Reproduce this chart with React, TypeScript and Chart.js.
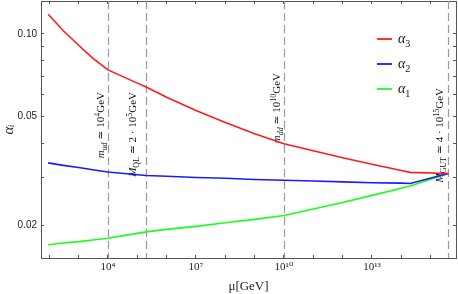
import React, { useEffect, useRef } from 'react';
import { Chart, registerables } from 'chart.js';

Chart.register(...registerables);

// scale mu in GeV
const muGeV = [91.2, 3e2, 1e3, 3e3, 1e4, 1e5, 2e5, 1e6, 1e7, 1e8, 1e9, 1e10, 1e11, 1e12, 1e13, 1e14, 2e14, 4e15];
const alpha3 = [0.118, 0.1028, 0.091, 0.0817, 0.074, 0.0662, 0.0641, 0.0588, 0.0526, 0.0476, 0.0433, 0.0398, 0.0375, 0.0354, 0.0335, 0.0318, 0.0313, 0.031];
const alpha2 = [0.0339, 0.0332, 0.0326, 0.032, 0.0314, 0.0307, 0.0305, 0.0303, 0.03, 0.0298, 0.0295, 0.0293, 0.0291, 0.0289, 0.0287, 0.0286, 0.0285, 0.031];
const alpha1 = [0.01706, 0.01729, 0.0175, 0.01775, 0.018, 0.01876, 0.019, 0.0194, 0.0199, 0.0205, 0.0211, 0.0218, 0.023, 0.0243, 0.0258, 0.0274, 0.0279, 0.031];

const seriesNames = ['α3', 'α2', 'α1'];
const seriesColors = ['#ff1a1a', '#1a1aff', '#1aff1a'];

const thresholdValues = [1e4, 2e5, 1e10, 4e15];
type Seg = [string, string];
const thresholdTexts: Seg[][] = [
  [['m', 'i'], ['ud', 'subi'], [' ≃ 10', ''], ['4', 'sup'], ['GeV', '']],
  [['M', 'i'], ['QL', 'sub'], [' ≃ 2 · 10', ''], ['5', 'sup'], ['GeV', '']],
  [['m', 'i'], ['dd', 'subi'], [' ≃ 10', ''], ['10', 'sup'], ['GeV', '']],
  [['M', 'i'], ['GUT', 'sub'], [' ≃ 4 · 10', ''], ['15', 'sup'], ['GeV', '']],
];

const xTickValues = [1e2, 1e3, 1e4, 1e5, 1e6, 1e7, 1e8, 1e9, 1e10, 1e11, 1e12, 1e13, 1e14, 1e15];
const xLabeledValues = [1e4, 1e7, 1e10, 1e13];
const xLabelTexts = ['10⁴', '10⁷', '10¹⁰', '10¹³'];
const yTickValues = [0.02, 0.03, 0.04, 0.05, 0.06, 0.07, 0.08, 0.09, 0.1];
const yLabeledValues = [0.02, 0.05, 0.1];
const yLabelTexts = ['0.02', '0.05', '0.10'];

const X_MIN = Math.pow(10, 1.716);
const X_MAX = Math.pow(10, 15.865);
const Y_MIN = Math.pow(10, -1.8166);
const Y_MAX = Math.pow(10, -0.8797);

const SERIF = '"Liberation Serif", "DejaVu Serif", serif';
const AXIS = '#555';

function segFont(kind: string, size: number) {
  const small = kind.startsWith('sub') || kind === 'sup';
  const fs = small ? size * 0.72 : size;
  const it = kind === 'i' || kind === 'subi' ? 'italic ' : '';
  return `${it}${fs}px ${SERIF}`;
}

function richWidth(ctx: CanvasRenderingContext2D, segs: Seg[], size: number) {
  let w = 0;
  for (const [t, k] of segs) {
    ctx.font = segFont(k, size);
    w += ctx.measureText(t).width;
  }
  return w;
}

function drawRich(ctx: CanvasRenderingContext2D, segs: Seg[], x: number, y: number, size: number, rotate: boolean, color: string) {
  ctx.save();
  ctx.translate(x, y);
  if (rotate) ctx.rotate(-Math.PI / 2);
  ctx.textBaseline = 'alphabetic';
  ctx.textAlign = 'left';
  ctx.fillStyle = color;
  let cx = 0;
  for (const [t, k] of segs) {
    ctx.font = segFont(k, size);
    const dy = k.startsWith('sub') ? size * 0.25 : k === 'sup' ? -size * 0.4 : 0;
    ctx.fillText(t, cx, dy);
    cx += ctx.measureText(t).width;
  }
  ctx.restore();
}

const labelGaps = [4, 10, 4, 5];
const labelTops = [92, 92, 73, 88];

const overlayPlugin = {
  id: 'overlay',
  beforeDatasetsDraw(chart: any) {
    const { ctx, chartArea } = chart;
    const xs = chart.scales.x;
    ctx.save();
    ctx.strokeStyle = '#9a9a9a';
    ctx.lineWidth = 1.2;
    ctx.setLineDash([8, 4]);
    thresholdValues.forEach((v) => {
      const px = Math.round(xs.getPixelForValue(v)) + 0.5;
      ctx.beginPath();
      ctx.moveTo(px, chartArea.top);
      ctx.lineTo(px, chartArea.bottom);
      ctx.stroke();
    });
    ctx.restore();
    thresholdValues.forEach((v, i) => {
      const px = xs.getPixelForValue(v);
      const segs = thresholdTexts[i];
      const w = richWidth(ctx, segs, 11);
      drawRich(ctx, segs, px - labelGaps[i], labelTops[i] + w, 11, true, '#111');
    });
  },
  afterDatasetsDraw(chart: any) {
    const { ctx } = chart;
    chart.data.datasets.forEach((ds: any, i: number) => {
      const y = 39 + i * 25;
      ctx.save();
      ctx.strokeStyle = ds.borderColor;
      ctx.lineWidth = 1.8;
      ctx.beginPath();
      ctx.moveTo(377, y);
      ctx.lineTo(392, y);
      ctx.stroke();
      ctx.restore();
      const name: string = ds.label;
      drawRich(ctx, [[name[0], 'i'], [name.slice(1), 'sub']], 398, y + 4, 14, false, '#111');
    });
  },
};

function logTicks(values: number[]) {
  return (scale: any) => {
    scale.ticks = values.map((v) => ({ value: v }));
  };
}

function fixSize(prop: 'width' | 'height', size: number) {
  return (s: any) => {
    s[prop] = size;
    s.paddingTop = 0;
    s.paddingBottom = 0;
    s.paddingLeft = 0;
    s.paddingRight = 0;
  };
}

export default function App() {
  const canvasRef = useRef<HTMLCanvasElement | null>(null);

  useEffect(() => {
    const canvas = canvasRef.current;
    if (!canvas) return;
    const datasets = [alpha3, alpha2, alpha1].map((vals, i) => ({
      label: seriesNames[i],
      data: vals.map((a, j) => ({ x: muGeV[j], y: a })),
      borderColor: seriesColors[i],
      backgroundColor: seriesColors[i],
      borderWidth: 1.6,
      pointRadius: 0,
      tension: 0,
      fill: false,
      xAxisID: 'x',
      yAxisID: 'y',
    }));
    const frameGrid = { drawOnChartArea: false, drawTicks: true, tickLength: -3, color: AXIS, lineWidth: 1 };
    const chart = new Chart(canvas, {
      type: 'line',
      data: { datasets },
      plugins: [overlayPlugin],
      options: {
        animation: false,
        responsive: false,
        devicePixelRatio: 1,
        layout: { padding: 0 },
        plugins: { legend: { display: false }, tooltip: { enabled: false } },
        scales: {
          x: {
            type: 'logarithmic',
            position: 'bottom',
            min: X_MIN,
            max: X_MAX,
            afterBuildTicks: logTicks(xTickValues),
            afterFit: fixSize('height', 36),
            ticks: {
              autoSkip: false,
              maxRotation: 0,
              padding: 6,
              color: '#222',
              font: { family: SERIF, size: 11 },
              callback: (v: any) => {
                const k = xLabeledValues.findIndex((t) => Math.abs(Math.log10(t) - Math.log10(Number(v))) < 1e-6);
                return k >= 0 ? xLabelTexts[k] : '';
              },
            },
            grid: frameGrid,
            border: { display: true, color: AXIS, width: 1 },
            title: { display: true, text: 'μ[GeV]', color: '#222', font: { family: SERIF, size: 13 }, padding: 0 },
          },
          y: {
            type: 'logarithmic',
            position: 'left',
            min: Y_MIN,
            max: Y_MAX,
            afterBuildTicks: logTicks(yTickValues),
            afterFit: fixSize('width', 41),
            ticks: {
              autoSkip: false,
              padding: 7,
              color: '#222',
              font: { family: '"Liberation Sans", "DejaVu Sans", sans-serif', size: 10 },
              callback: (v: any) => {
                const k = yLabeledValues.findIndex((t) => Math.abs(t - Number(v)) < 1e-9);
                return k >= 0 ? yLabelTexts[k] : '';
              },
            },
            grid: frameGrid,
            border: { display: true, color: AXIS, width: 1 },
            title: { display: true, text: 'αᵢ', color: '#222', font: { family: SERIF, size: 15, style: 'italic' }, padding: 0 },
          },
          x2: {
            type: 'logarithmic',
            position: 'top',
            min: X_MIN,
            max: X_MAX,
            afterBuildTicks: logTicks(xTickValues),
            afterFit: fixSize('height', 1),
            ticks: { display: false, autoSkip: false },
            grid: frameGrid,
            border: { display: true, color: AXIS, width: 1 },
          },
          y2: {
            type: 'logarithmic',
            position: 'right',
            min: Y_MIN,
            max: Y_MAX,
            afterBuildTicks: logTicks(yTickValues),
            afterFit: fixSize('width', 2),
            ticks: { display: false, autoSkip: false },
            grid: frameGrid,
            border: { display: true, color: AXIS, width: 1 },
          },
        },
      } as any,
    });
    return () => chart.destroy();
  }, []);

  return (
    <div style={{ position: 'absolute', left: 0, top: 0, width: 458, height: 294, background: '#fff' }}>
      <canvas ref={canvasRef} width={458} height={294} style={{ display: 'block' }} />
    </div>
  );
}
